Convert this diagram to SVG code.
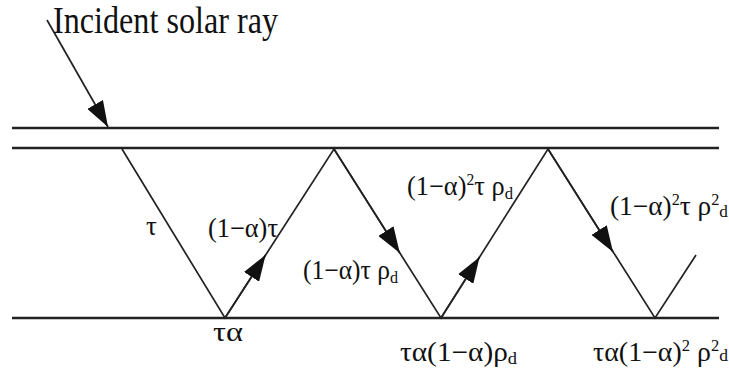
<svg xmlns="http://www.w3.org/2000/svg" width="729" height="369" viewBox="0 0 729 369">
<style>
.plate{stroke:#222;stroke-width:2.6;fill:none}
.ray{stroke:#222;stroke-width:1.7;fill:none}
.lbl{font-family:"Liberation Serif","Times New Roman",serif;font-size:27px;fill:#111}
.title{font-family:"Liberation Serif","Times New Roman",serif;font-size:37px;fill:#111}
.sub{font-size:17px}
.sup{font-size:16px}
</style>
<defs>
<marker id="ah" markerUnits="userSpaceOnUse" markerWidth="28" markerHeight="18" refX="26" refY="9" orient="auto">
<path d="M0,0 L26,9 L0,18 Z" fill="#111"/>
</marker>
</defs>
<rect width="729" height="369" fill="#fff"/>
<g id="plates">
<line class="plate" x1="12" y1="128" x2="719" y2="128"/>
<line class="plate" x1="12" y1="148" x2="719" y2="148"/>
<line class="plate" x1="12" y1="318" x2="719" y2="318"/>
</g>
<g id="connectors">
<line class="ray" x1="47" y1="20" x2="108" y2="127" marker-end="url(#ah)"/>
<polyline class="ray" points="122,149 225,318 334,149 441,318 548,149 655,318 696,255"/>
<line class="ray" x1="225" y1="318" x2="265.6" y2="255" marker-end="url(#ah)"/>
<line class="ray" x1="334" y1="149" x2="399.8" y2="253" marker-end="url(#ah)"/>
<line class="ray" x1="441" y1="318" x2="479.6" y2="257" marker-end="url(#ah)"/>
<line class="ray" x1="548" y1="149" x2="613" y2="252" marker-end="url(#ah)"/>
</g>
<g id="labels">
<text id="title" class="title" x="53" y="33" textLength="225" lengthAdjust="spacingAndGlyphs">Incident solar ray</text>
<text id="l-tau" class="lbl" x="146" y="235">τ</text>
<text id="l-1" class="lbl" x="208" y="237" textLength="70" lengthAdjust="spacingAndGlyphs">(1−α)τ</text>
<text id="l-2" class="lbl" x="303" y="279" textLength="95" lengthAdjust="spacingAndGlyphs">(1−α)τ ρ<tspan class="sub" dy="4">d</tspan></text>
<text id="l-ta" class="lbl" x="213" y="341" textLength="30" lengthAdjust="spacingAndGlyphs">τα</text>
<text id="l-3" class="lbl" x="407" y="195" textLength="106" lengthAdjust="spacingAndGlyphs">(1−α)<tspan class="sup" dy="-10">2</tspan><tspan dy="10">τ ρ</tspan><tspan class="sub" dy="4">d</tspan></text>
<text id="l-4" class="lbl" x="610" y="215" textLength="118" lengthAdjust="spacingAndGlyphs">(1−α)<tspan class="sup" dy="-10">2</tspan><tspan dy="10">τ ρ</tspan><tspan class="sup" dy="-10">2</tspan><tspan class="sub" dy="12">d</tspan></text>
<text id="l-5" class="lbl" x="400" y="361" textLength="117" lengthAdjust="spacingAndGlyphs">τα(1−α)ρ<tspan class="sub" dy="3">d</tspan></text>
<text id="l-6" class="lbl" x="593" y="361" textLength="135" lengthAdjust="spacingAndGlyphs">τα(1−α)<tspan class="sup" dy="-10">2</tspan><tspan dy="10"> ρ</tspan><tspan class="sup" dy="-10">2</tspan><tspan class="sub" dy="10">d</tspan></text>
</g>
</svg>
